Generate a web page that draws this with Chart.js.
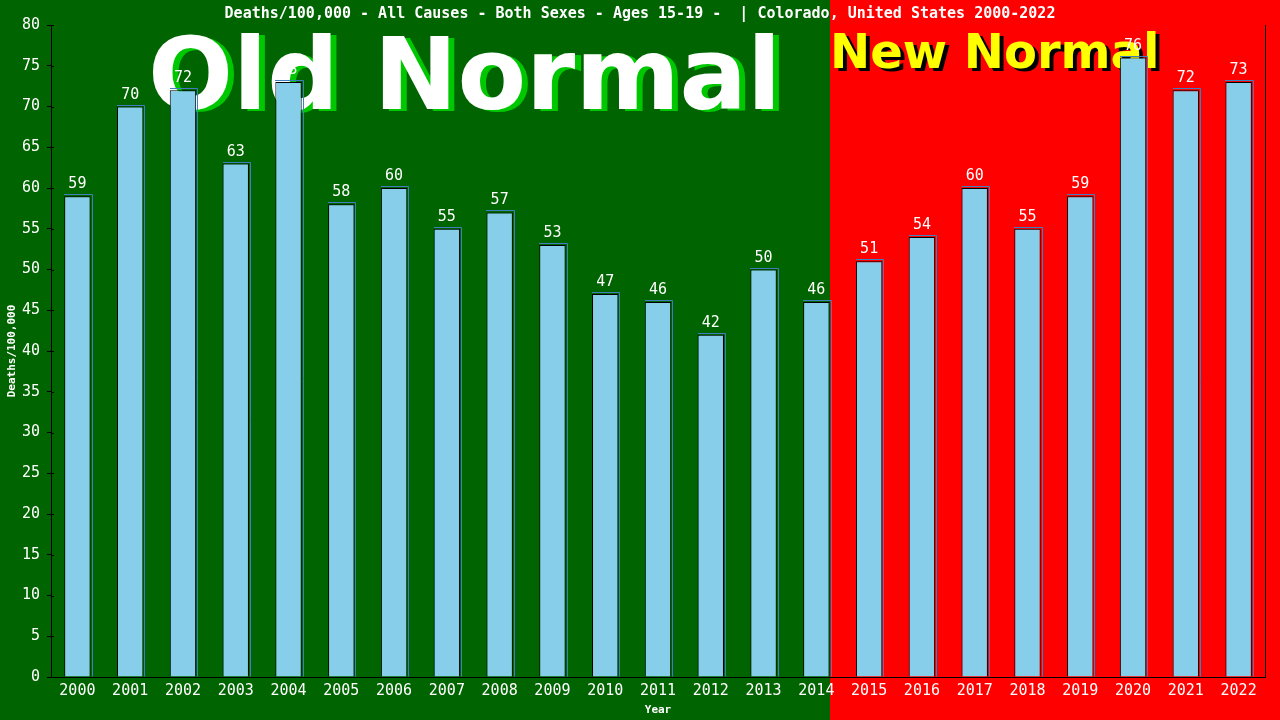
<!DOCTYPE html>
<html lang="en">
<head>
    <meta charset="UTF-8">
    <title>Deaths/100,000 - Colorado, Ages 15-19</title>
    <script src="https://cdn.jsdelivr.net/npm/chart.js"></script>
    <style>
        html, body { margin: 0; padding: 0; background: #006400; overflow: hidden; }
        canvas { display: block; }
    </style>
</head>
<body>
    <canvas id="deathsChart" width="1280" height="720"></canvas>

    <script>
        // Data
        const years = ['2000', '2001', '2002', '2003', '2004', '2005', '2006', '2007', '2008', '2009', '2010', '2011',
                       '2012', '2013', '2014', '2015', '2016', '2017', '2018', '2019', '2020', '2021', '2022'];
        const deathsPer100k = [59, 70, 72, 63, 73, 58, 60, 55, 57, 53, 47, 46, 42, 50, 46, 51, 54, 60, 55, 59, 76, 72, 73];
        const lastOldNormalIndex = 14; // 2014
        const titleText = 'Deaths/100,000 - All Causes - Both Sexes - Ages 15-19 -  | Colorado, United States 2000-2022';

        const mono = '"DejaVu Sans Mono", "Liberation Mono", monospace';

        // green / red halves, plus the big overlay words
        const backdrop = {
            id: 'backdrop',
            beforeDraw(chart) {
                const { ctx, width, height } = chart;
                const meta = chart.getDatasetMeta(0);
                const bar = meta.data[lastOldNormalIndex];
                const split = Math.round(bar.x + bar.width / 2);
                ctx.save();
                ctx.fillStyle = '#006400';
                ctx.fillRect(0, 0, split, height);
                ctx.fillStyle = '#ff0000';
                ctx.fillRect(split, 0, width - split, height);

                ctx.textBaseline = 'alphabetic';
                ctx.textAlign = 'left';
                // Old Normal
                ctx.font = 'bold 100px "DejaVu Sans", sans-serif';
                ctx.fillStyle = '#00c800';
                ctx.fillText('Old Normal', 154, 111);
                ctx.fillStyle = '#ffffff';
                ctx.fillText('Old Normal', 148, 109);
                // New Normal
                ctx.font = 'bold 48px "DejaVu Sans", sans-serif';
                ctx.fillStyle = '#000000';
                ctx.fillText('New Normal', split + 4, 71);
                ctx.fillStyle = '#ffff00';
                ctx.fillText('New Normal', split, 68);

                // title
                ctx.font = 'bold 15px ' + mono;
                ctx.fillStyle = '#ffffff';
                ctx.textAlign = 'center';
                ctx.fillText(titleText, 640, 18);
                ctx.restore();
            },
            afterDatasetsDraw(chart) {
                // thin blue edge on top/right of each bar
                const { ctx } = chart;
                ctx.save();
                ctx.strokeStyle = '#3f7fbf';
                ctx.lineWidth = 1;
                ctx.beginPath();
                chart.getDatasetMeta(0).data.forEach(bar => {
                    const l = Math.round(bar.x - bar.width / 2);
                    const r = Math.round(bar.x + bar.width / 2) + 1.5;
                    const t = Math.round(bar.y) - 1.5;
                    ctx.moveTo(l, t);
                    ctx.lineTo(r, t);
                    ctx.lineTo(r, bar.base);
                });
                ctx.stroke();
                ctx.restore();
            },
            afterDraw(chart) {
                const { ctx, chartArea } = chart;
                const y = chart.scales.y;
                ctx.save();
                ctx.strokeStyle = '#000000';
                ctx.lineWidth = 1;
                ctx.beginPath();
                // right frame line
                ctx.moveTo(chartArea.right + 0.5, chartArea.top);
                ctx.lineTo(chartArea.right + 0.5, chartArea.bottom);
                // inner half of the y tick marks
                y.ticks.forEach(t => {
                    const py = Math.round(y.getPixelForValue(t.value)) + 0.5;
                    ctx.moveTo(chartArea.left, py);
                    ctx.lineTo(chartArea.left + 3, py);
                });
                ctx.stroke();

                // value labels above bars
                ctx.font = '15px ' + mono;
                ctx.fillStyle = '#ffffff';
                ctx.textAlign = 'center';
                ctx.textBaseline = 'alphabetic';
                chart.getDatasetMeta(0).data.forEach((bar, i) => {
                    ctx.fillText(String(deathsPer100k[i]), bar.x, bar.y - 8);
                });
                ctx.restore();
            }
        };

        new Chart(document.getElementById('deathsChart'), {
            type: 'bar',
            data: {
                labels: years,
                datasets: [{
                    label: 'Deaths/100,000',
                    data: deathsPer100k,
                    backgroundColor: '#87ceeb',
                    borderColor: '#000000',
                    borderWidth: 1,
                    barPercentage: 0.5,
                    categoryPercentage: 1.0
                }]
            },
            options: {
                responsive: false,
                animation: false,
                devicePixelRatio: 1,
                layout: { padding: { top: 25, right: 15, left: 0, bottom: 0 } },
                plugins: {
                    legend: { display: false },
                    tooltip: { enabled: false }
                },
                scales: {
                    x: {
                        grid: { display: false, drawTicks: false, tickLength: 0 },
                        border: { display: true, color: '#000000', width: 1 },
                        ticks: { color: '#ffffff', font: { family: mono, size: 15 }, padding: 5, maxRotation: 0, autoSkip: false },
                        title: { display: true, text: 'Year', color: '#ffffff', font: { family: mono, size: 11, weight: 'bold' }, padding: { top: 0, bottom: 3 } },
                        afterFit(scale) { scale.height = 43; }
                    },
                    y: {
                        min: 0,
                        max: 80,
                        ticks: { stepSize: 5, color: '#ffffff', font: { family: mono, size: 15 }, padding: 7 },
                        grid: { display: true, drawOnChartArea: false, color: '#000000', tickLength: 4 },
                        border: { display: true, color: '#000000', width: 1 },
                        title: { display: true, text: 'Deaths/100,000', color: '#ffffff', font: { family: mono, size: 11, weight: 'bold' }, padding: { top: 6, bottom: 0 } },
                        afterFit(scale) { scale.width = 51; }
                    }
                }
            },
            plugins: [backdrop]
        });
    </script>
</body>
</html>
